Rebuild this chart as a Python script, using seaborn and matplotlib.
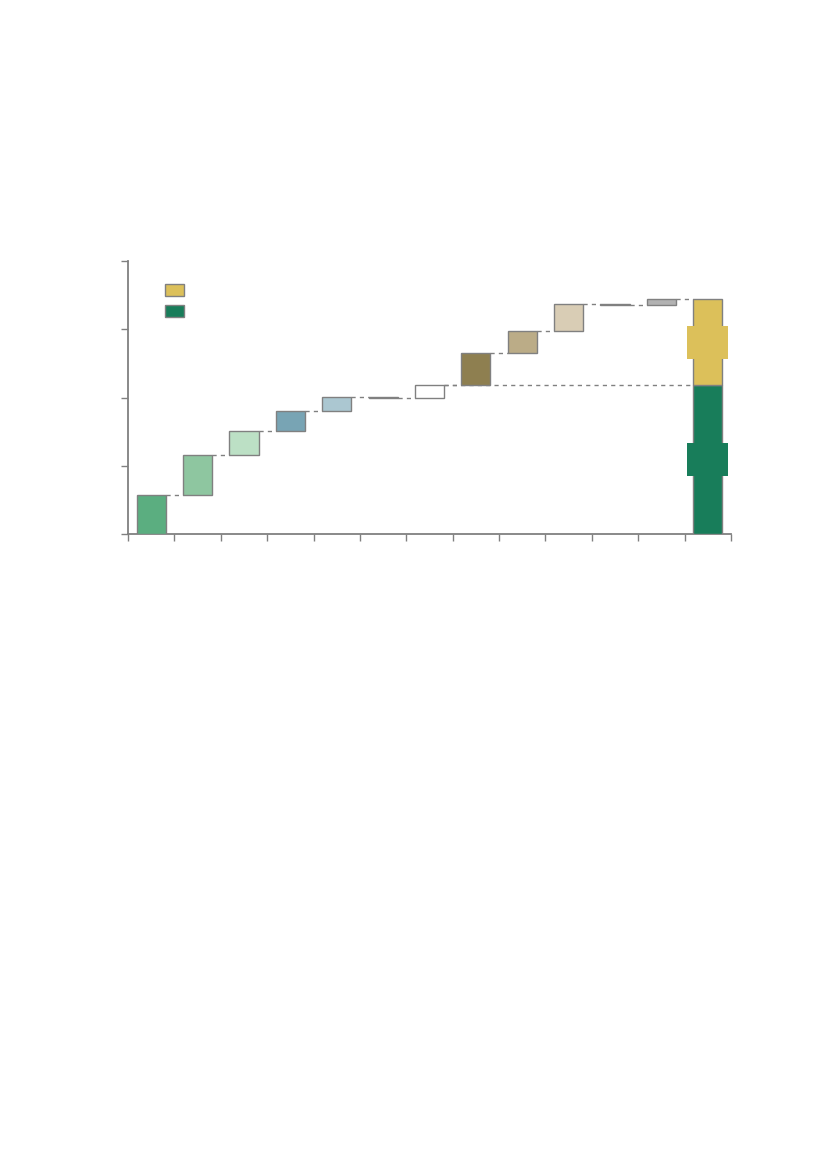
import numpy as np
import pandas as pd
import matplotlib
matplotlib.use("Agg")
import matplotlib.pyplot as plt
import matplotlib.patches as mpatches
import seaborn as sns

# Valori (scala 0-100, nessuna etichetta visibile)
steps = [14.2, 14.6, 8.8, 7.3, 5.2, -0.1, 4.5, 11.7, 8.0, 9.9, -0.1, 2.0]
step_colors = ["#5BAE80", "#8EC6A0", "#BCE0C5", "#78A4B4", "#ABC7D1", "#808080",
               "#FFFFFF", "#8E7F50", "#BBAC87", "#D9CDB5", "#808080", "#B2B2B2"]
total_green = 54.5
total_yellow = 31.5
green = "#187D5A"
yellow = "#DCC05A"
edge = "#808080"

df = pd.DataFrame({"pos": np.arange(len(steps)), "step": steps, "color": step_colors})
df["end"] = df["step"].cumsum()
df["start"] = df["end"] - df["step"]
final_pos = len(steps)

sns.set_theme(style="ticks")
fig = plt.figure(figsize=(8.27, 11.69), dpi=100)
ax = fig.add_axes([128 / 827, 1 - 534 / 1169, 603 / 827, 273 / 1169])

w = 0.63
ax.bar(df["pos"], df["step"], bottom=df["start"], width=w, color=df["color"],
       edgecolor=edge, linewidth=1, zorder=3)

# Barra finale impilata
ax.bar(final_pos, total_green, width=w, color=green, edgecolor=edge, linewidth=1, zorder=3)
ax.bar(final_pos, total_yellow, bottom=total_green, width=w, color=yellow,
       edgecolor=edge, linewidth=1, zorder=3)

# Riquadri etichette (senza testo) al centro dei segmenti
box_h = 12.2
ax.bar(final_pos, box_h, bottom=total_green / 2 - box_h / 2, width=0.89,
       color=green, linewidth=0, zorder=4)
ax.bar(final_pos, box_h, bottom=total_green + total_yellow / 2 - box_h / 2, width=0.89,
       color=yellow, linewidth=0, zorder=4)

# Linee di collegamento tratteggiate
dash = dict(colors=edge, linestyles=(0, (3, 3)), linewidth=1, zorder=2)
ax.hlines(df["end"][:-1], df["pos"][:-1] + w / 2, df["pos"][1:] - w / 2, **dash)
ax.hlines(df["end"].iloc[-1], df["pos"].iloc[-1] + w / 2, final_pos - w / 2, **dash)
ax.hlines(total_green, df["pos"].iloc[6] + w / 2, final_pos - w / 2, **dash)

ax.set_xlim(-0.5, final_pos + 0.5)
ax.set_ylim(0, 100)
ax.set_xticks(np.arange(-0.5, final_pos + 1, 1))
ax.set_yticks([0, 25, 50, 75, 100])
ax.set_xticklabels([])
ax.set_yticklabels([])
ax.tick_params(axis="both", colors=edge, length=5, width=1)
sns.despine(ax=ax)
for s in ["left", "bottom"]:
    ax.spines[s].set_color(edge)
    ax.spines[s].set_linewidth(1.3)

handles = [mpatches.Patch(facecolor=yellow, edgecolor=edge, linewidth=1),
           mpatches.Patch(facecolor=green, edgecolor=edge, linewidth=1)]
ax.legend(handles, ["", ""], loc="upper left", bbox_to_anchor=(0.061, 0.916),
          frameon=False, borderpad=0, borderaxespad=0, handlelength=1.37,
          handleheight=1.0, labelspacing=0.5, handletextpad=0.3, fontsize=10)

fig.savefig("out.png", dpi=100)
